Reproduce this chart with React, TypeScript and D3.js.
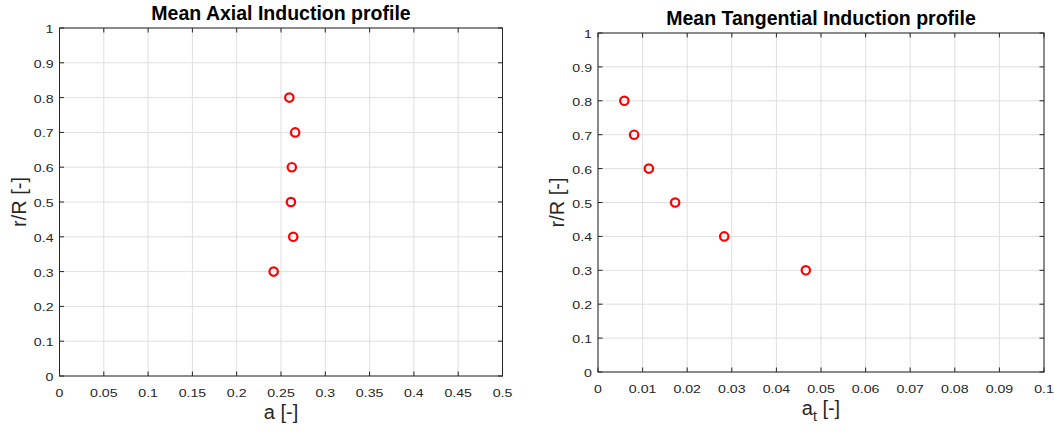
import React from "react";
import * as d3 from "d3";

// Radial stations r/R
const radialPositions = [0.3, 0.4, 0.5, 0.6, 0.7, 0.8];
// Mean axial induction factor at each station
const axialInduction = [0.2417, 0.2638, 0.2612, 0.2622, 0.2660, 0.2594];
// Mean tangential induction factor at each station
const tangentialInduction = [0.0466, 0.0283, 0.0173, 0.0114, 0.0081, 0.0059];

const axialTicks = [0, 0.05, 0.1, 0.15, 0.2, 0.25, 0.3, 0.35, 0.4, 0.45, 0.5];
const tangentialTicks = [0, 0.01, 0.02, 0.03, 0.04, 0.05, 0.06, 0.07, 0.08, 0.09, 0.1];
const radialTicks = [0, 0.1, 0.2, 0.3, 0.4, 0.5, 0.6, 0.7, 0.8, 0.9, 1];

const FONT = "'Liberation Sans', Arial, Helvetica, sans-serif";
const AXIS_COLOR = "#262626";

type PanelProps = {
  left: number;
  top: number;
  width: number;
  height: number;
  title: string;
  xMax: number;
  xTicks: number[];
  xValues: number[];
  xLabel: React.ReactNode;
};

function TickText({ x, y, anchor, children }: { x: number; y: number; anchor: string; children: React.ReactNode }) {
  return (
    <text
      transform={`translate(${x},${y}) scale(1.2,1)`}
      textAnchor={anchor}
      fontSize={11.8}
      fill={AXIS_COLOR}
      fontFamily={FONT}
    >
      {children}
    </text>
  );
}

function Panel({ left, top, width, height, title, xMax, xTicks, xValues, xLabel }: PanelProps) {
  const x = d3.scaleLinear().domain([0, xMax]).range([left, left + width]);
  const y = d3.scaleLinear().domain([0, 1]).range([top + height, top]);
  const tickLen = 4.5;
  const fmt = (v: number) => String(+v.toFixed(3));
  return (
    <g>
      {/* grid */}
      {xTicks.map((t) => (
        <line key={"gx" + t} x1={x(t)} x2={x(t)} y1={top} y2={top + height} stroke="#dfdfdf" strokeWidth={1} />
      ))}
      {radialTicks.map((t) => (
        <line key={"gy" + t} x1={left} x2={left + width} y1={y(t)} y2={y(t)} stroke="#dfdfdf" strokeWidth={1} />
      ))}
      {/* ticks on all four sides */}
      {xTicks.map((t) => (
        <g key={"tx" + t}>
          <line x1={x(t)} x2={x(t)} y1={top + height} y2={top + height - tickLen} stroke={AXIS_COLOR} />
          <line x1={x(t)} x2={x(t)} y1={top} y2={top + tickLen} stroke={AXIS_COLOR} />
          <TickText x={x(t)} y={top + height + 21} anchor="middle">
            {fmt(t)}
          </TickText>
        </g>
      ))}
      {radialTicks.map((t) => (
        <g key={"ty" + t}>
          <line x1={left} x2={left + tickLen} y1={y(t)} y2={y(t)} stroke={AXIS_COLOR} />
          <line x1={left + width} x2={left + width - tickLen} y1={y(t)} y2={y(t)} stroke={AXIS_COLOR} />
          <TickText x={left - 6} y={y(t) + 5} anchor="end">
            {fmt(t)}
          </TickText>
        </g>
      ))}
      <rect x={left} y={top} width={width} height={height} fill="none" stroke={AXIS_COLOR} strokeWidth={1} />
      {/* data */}
      {radialPositions.map((r, i) => (
        <circle key={"p" + i} cx={x(xValues[i])} cy={y(r)} r={4.2} fill="none" stroke="#ff0000" strokeWidth={2.2} />
      ))}
      {/* title */}
      <text x={left + width / 2} y={top - 8} textAnchor="middle" fontSize={19.5} fontWeight="bold" fill="#000" fontFamily={FONT}>
        {title}
      </text>
      {/* axis labels */}
      <text x={left + width / 2} y={top + height + 43} textAnchor="middle" fontSize={20} fill={AXIS_COLOR} fontFamily={FONT}>
        {xLabel}
      </text>
      <text
        transform={`translate(${left - 34},${top + height / 2}) rotate(-90)`}
        textAnchor="middle"
        fontSize={20}
        fill={AXIS_COLOR}
        fontFamily={FONT}
      >
        r/R [-]
      </text>
    </g>
  );
}

export default function App() {
  return (
    <svg width={1054} height={433} style={{ position: "absolute", left: 0, top: 0, background: "#fff" }}>
      <rect width={1054} height={433} fill="#fff" />
      <Panel
        left={59.5}
        top={28}
        width={443}
        height={348}
        title="Mean Axial Induction profile"
        xMax={0.5}
        xTicks={axialTicks}
        xValues={axialInduction}
        xLabel="a [-]"
      />
      <Panel
        left={598}
        top={33}
        width={446}
        height={339}
        title="Mean Tangential Induction profile"
        xMax={0.1}
        xTicks={tangentialTicks}
        xValues={tangentialInduction}
        xLabel={
          <>
            a<tspan dy={6} fontSize={14}>t</tspan>
            <tspan dy={-6}> [-]</tspan>
          </>
        }
      />
    </svg>
  );
}
